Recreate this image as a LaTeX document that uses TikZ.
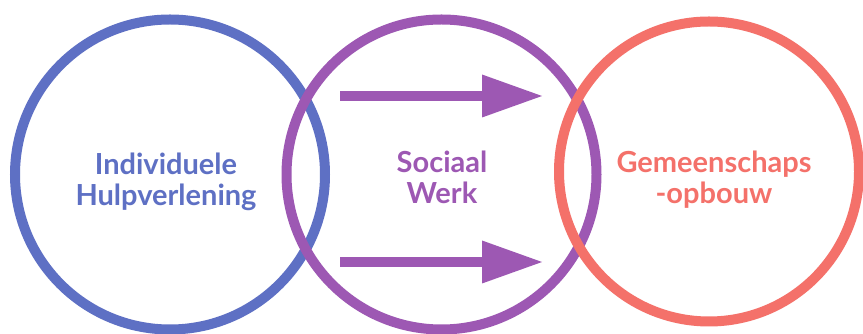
\documentclass[tikz,border=0pt]{standalone}
\usepackage{fontspec}
\setmainfont{Lato}
\usetikzlibrary{arrows.meta}
\definecolor{cblue}{HTML}{5E70C4}
\definecolor{cpurple}{HTML}{9D58B3}
\definecolor{cred}{HTML}{F4716A}
\tikzset{
  ring/.style={line width=10pt},
  label/.style={font=\bfseries\fontsize{29}{31}\selectfont, align=center, anchor=base, inner sep=0pt},
  bigarrow/.style={cpurple, line width=10pt, -{Triangle[length=60pt,width=43pt,line width=0pt]}}
}
\begin{document}
\begin{tikzpicture}[x=1pt,y=1pt]
\useasboundingbox[fill=white] (0,0) rectangle (863,334);
\draw[ring, cblue] (170,159.5) circle[radius=155];
\draw[ring, cpurple] (441.5,159.5) circle[radius=155];
\draw[ring, cred] (709,162.5) circle[radius=150];
\node[label, text=cblue] (ind) at (166,128) {Individuele\\Hulpverlening};
\node[label, text=cpurple] (soc) at (442,130) {Sociaal\\Werk};
\node[label, text=cred] (gem) at (714,130) {Gemeenschaps\\-opbouw};
\coordinate (a1s) at (340,238);
\coordinate (a1e) at (542,238);
\coordinate (a2s) at (340,72);
\coordinate (a2e) at (542,72);
\draw[bigarrow] (a1s) -- (a1e);
\draw[bigarrow] (a2s) -- (a2e);
\end{tikzpicture}
\end{document}
